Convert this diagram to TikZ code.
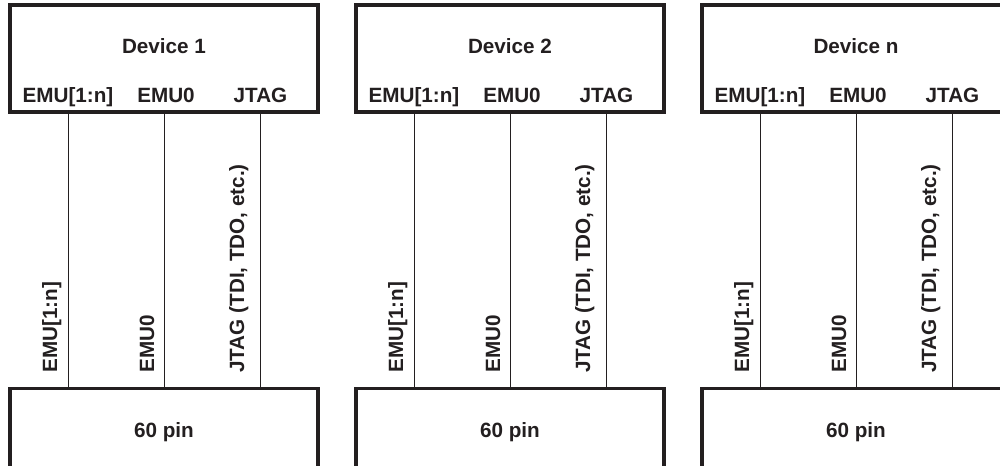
\documentclass[tikz,border=0pt]{standalone}
\usepackage{fontspec}
\setmainfont{Liberation Sans}
\definecolor{ink}{RGB}{35,31,32}
\begin{document}
\begin{tikzpicture}[x=0.75pt,y=-0.75pt,
  devbox/.style={draw=ink, line width=2.4pt, fill=white, minimum width=231pt, minimum height=80.25pt, inner sep=0pt, outer sep=0pt},
  pinbox/.style={draw=ink, line width=2.4pt, fill=white, minimum width=231pt, minimum height=60pt, inner sep=0pt, outer sep=0pt},
  wire/.style={draw=ink, line width=0.75pt},
  lbl/.style={text=ink, font=\fontsize{15.5}{18}\selectfont\bfseries, inner sep=0pt, anchor=base},
  vlbl/.style={lbl, rotate=90, anchor=base west}]
\useasboundingbox (0,0) rectangle (1000,466);
\clip (0,0) rectangle (1000,466);
\foreach \i/\x/\nm in {1/10/1, 2/356/2, 3/702/n}{
  \node[devbox] (t\i) at (\x+154, 58.5) {};
  \node[pinbox] (b\i) at (\x+154, 428.5) {};
  \node[lbl] (d\i) at (\x+154, 54) {Device \nm};
  \node[lbl] (e\i) at (\x+58, 103) {EMU[1:n]};
  \node[lbl] (z\i) at (\x+156, 103) {EMU0};
  \node[lbl] (j\i) at (\x+250.5, 103) {JTAG};
  \node[lbl] (p\i) at (\x+154, 438) {60 pin};
  \coordinate (we\i) at (\x+58, 112);
  \coordinate (wz\i) at (\x+154, 112);
  \coordinate (wj\i) at (\x+250, 112);
  \draw[wire] (we\i |- t\i.south) -- (we\i |- b\i.north);
  \draw[wire] (wz\i |- t\i.south) -- (wz\i |- b\i.north);
  \draw[wire] (wj\i |- t\i.south) -- (wj\i |- b\i.north);
  \node[vlbl] (ve\i) at (\x+47, 373) {EMU[1:n]};
  \node[vlbl] (vz\i) at (\x+144, 373) {EMU0};
  \node[vlbl] (vj\i) at (\x+234, 373) {JTAG (TDI, TDO, etc.)};
}
\end{tikzpicture}
\end{document}
